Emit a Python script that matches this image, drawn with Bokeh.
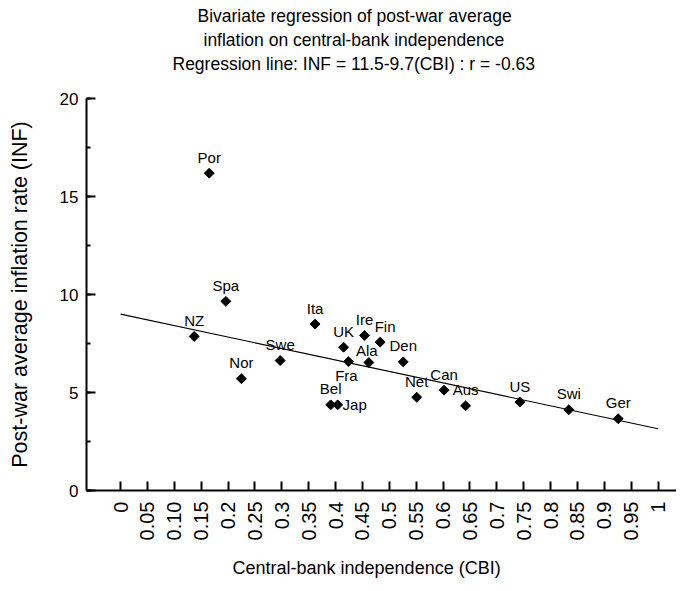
import math
from bokeh.plotting import figure
from bokeh.models import (Range1d, FixedTicker, SingleIntervalTicker, Title,
                          ColumnDataSource)
from bokeh.core.properties import value
from bokeh.embed import file_html
from bokeh.resources import INLINE

# ---- data ----
countries = ["Por", "Spa", "NZ", "Nor", "Swe", "Ita", "UK", "Ire", "Fin", "Ala",
             "Den", "Fra", "Bel", "Jap", "Net", "Can", "Aus", "US", "Swi", "Ger"]
cbi = [0.165, 0.196, 0.137, 0.225, 0.297, 0.362, 0.415, 0.454, 0.483, 0.462,
       0.526, 0.424, 0.391, 0.404, 0.551, 0.602, 0.642, 0.743, 0.834, 0.926]
inflation = [16.19, 9.65, 7.86, 5.70, 6.63, 8.49, 7.31, 7.91, 7.57, 6.53,
             6.56, 6.58, 4.37, 4.37, 4.76, 5.12, 4.32, 4.51, 4.12, 3.66]
reg_x = [0.0, 1.0]
reg_y = [9.0, 3.15]
x_ticks = [0, 0.05, 0.10, 0.15, 0.2, 0.25, 0.3, 0.35, 0.4, 0.45, 0.5,
           0.55, 0.6, 0.65, 0.7, 0.75, 0.8, 0.85, 0.9, 0.95, 1]
x_tick_labels = ["0", "0.05", "0.10", "0.15", "0.2", "0.25", "0.3", "0.35", "0.4",
                 "0.45", "0.5", "0.55", "0.6", "0.65", "0.7", "0.75", "0.8",
                 "0.85", "0.9", "0.95", "1"]
title_lines = ["Bivariate regression of post-war average",
               "inflation on central-bank independence",
               "Regression line: INF = 11.5-9.7(CBI) : r = -0.63"]
x_label = "Central-bank independence (CBI)"
y_label = "Post-war average inflation rate (INF)"

# ---- label placement (screen px offsets) ----
default_off = (0, -16)
special_off = {"Fin": (5, -16), "Ala": (-2, -12), "Fra": (-2, 14), "Jap": (17, 0)}
dx = [special_off.get(c, default_off)[0] for c in countries]
dy = [special_off.get(c, default_off)[1] for c in countries]

FONT = "Liberation Sans"

src = ColumnDataSource(dict(x=cbi, y=inflation, name=countries, dx=dx, dy=dy))

p = figure(frame_width=590, frame_height=392,
           x_range=Range1d(-0.0633, 1.0344), y_range=Range1d(0, 20),
           output_backend="svg", toolbar_location=None,
           min_border_left=86, min_border_right=0, min_border_top=98,
           min_border_bottom=100)
p.outline_line_color = None
p.grid.visible = False
p.background_fill_color = "white"
p.border_fill_color = "white"

# titles: spacer first (nearest the frame), then lines bottom-up
TITLE_SIZE = "17.5px"
title_offsets = [111, 117, 86]   # left offsets so the lines share one centre
p.add_layout(Title(text=" ", text_font=FONT, text_font_size=TITLE_SIZE,
                   standoff=2), "above")
for line, off in reversed(list(zip(title_lines, title_offsets))):
    p.add_layout(Title(text=line, align="left", offset=off, text_font=FONT,
                       text_font_size=TITLE_SIZE, text_font_style="normal",
                       text_color="black", standoff=2), "above")

# x axis
xa = p.xaxis[0]
xa.ticker = FixedTicker(ticks=x_ticks)
xa.major_label_overrides = {t: l for t, l in zip(x_ticks, x_tick_labels)}
xa.major_label_orientation = math.pi / 2
xa.major_label_text_font = FONT
xa.major_label_text_font_size = "20px"
xa.major_label_standoff = 11
xa.major_tick_in = 9
xa.major_tick_out = 0
xa.minor_tick_line_color = None
xa.axis_line_width = 2
xa.major_tick_line_width = 2
xa.major_label_text_color = "black"

# x axis title, placed below the axis
p.add_layout(Title(text=x_label, align="left", offset=146, text_font=FONT,
                   text_font_size="18px", text_font_style="normal",
                   text_color="black", standoff=25, vertical_align="bottom"),
             "below")

# y axis
ya = p.yaxis[0]
ya.ticker = SingleIntervalTicker(interval=5, num_minor_ticks=2)
ya.major_label_text_font = FONT
ya.major_label_text_font_size = "17px"
ya.major_label_standoff = 8
ya.major_tick_in = 9
ya.major_tick_out = 0
ya.minor_tick_in = 4
ya.minor_tick_out = 0
ya.axis_line_width = 2
ya.major_tick_line_width = 2
ya.minor_tick_line_width = 2
ya.axis_label = y_label
ya.axis_label_text_font = FONT
ya.axis_label_text_font_size = "21.5px"
ya.axis_label_text_font_style = "normal"
ya.axis_label_standoff = 25
ya.major_label_text_color = "black"
ya.axis_label_text_color = "black"

# regression line
p.line(reg_x, reg_y, line_color="black", line_width=1.2)

# points
p.scatter("x", "y", source=src, marker="square", size=7, angle=math.pi / 4,
          fill_color="black", line_color="black")

# point labels
p.text("x", "y", text="name", source=src, x_offset="dx", y_offset="dy",
       text_align="center", text_baseline="middle",
       text_font=value(FONT), text_font_size="15px", text_color="black")

open("out.html", "w").write(file_html(p, INLINE))
